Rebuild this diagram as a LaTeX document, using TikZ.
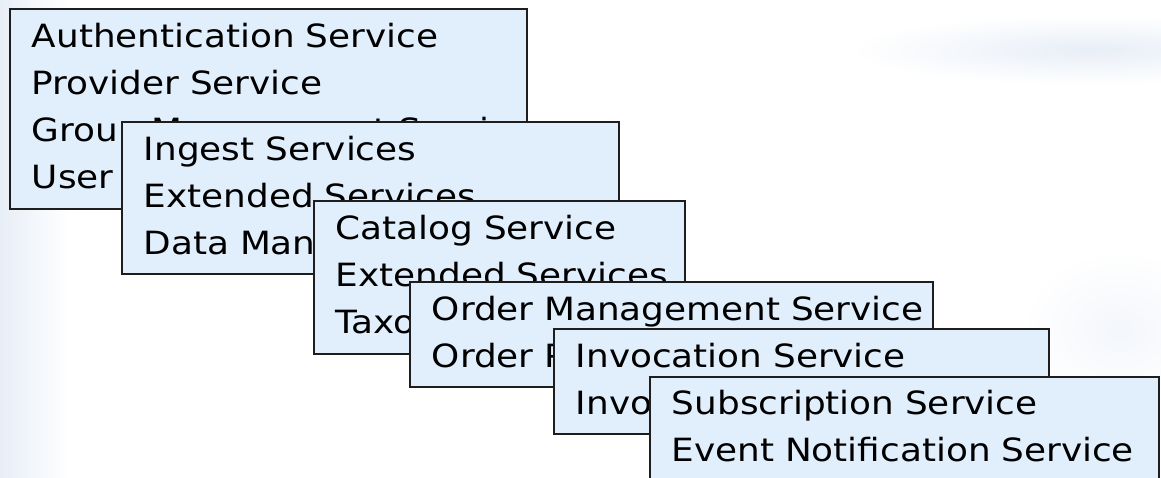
\documentclass[tikz,border=0pt]{standalone}
\usepackage{fontspec}
\setmainfont{DejaVu Sans}[FakeStretch=1.12]
\usetikzlibrary{positioning}
\definecolor{BoxFill}{HTML}{E1EEFC}
\definecolor{BoxLine}{HTML}{1E1E1E}
\definecolor{Haze}{HTML}{E8EEF7}
\newcommand{\svc}[1]{\mbox{\strut #1}}

\begin{document}
\begin{tikzpicture}[x=1pt, y=-1pt,
  svcbox/.style={draw=BoxLine, fill=BoxFill, line width=1.6pt, anchor=north west,
    align=left, inner xsep=22pt, inner ysep=0pt, font=\fontsize{32}{47}\selectfont}]
  \useasboundingbox (0,0) rectangle (1161,478);
  % faint slide background
  \shade[left color=Haze, right color=white] (0,0) rectangle (70,478);
  \shade[inner color=Haze, outer color=white] (1090,50) ellipse [x radius=240pt, y radius=35pt];
  \shade[inner color=Haze!50, outer color=white] (1120,330) ellipse [x radius=100pt, y radius=80pt];

  % stacked service groups, back to front
  \node[svcbox, text width=473pt, minimum height=200pt] (auth) at (9,8)
    {\svc{Authentication Service}\\\svc{Provider Service}\\\svc{Group Management Service}\\\svc{User Management Service}};
  \node[svcbox, text width=453pt, minimum height=152pt] (ingest) at (121,121)
    {\svc{Ingest Services}\\\svc{Extended Services}\\\svc{Data Management Service}};
  \node[svcbox, text width=327pt, minimum height=153pt] (catalog) at (313,200)
    {\svc{Catalog Service}\\\svc{Extended Services}\\\svc{Taxonomy Service}};
  \node[svcbox, text width=479pt, minimum height=105pt] (order) at (409,281)
    {\svc{Order Management Service}\\\svc{Order Processing Service}};
  \node[svcbox, text width=451pt, minimum height=105pt] (invoke) at (553,328)
    {\svc{Invocation Service}\\\svc{Invocation Management Service}};
  \node[svcbox, text width=465pt, minimum height=104pt] (notify) at (649,376)
    {\svc{Subscription Service}\\\svc{Event Notification Service}};
\end{tikzpicture}
\end{document}
